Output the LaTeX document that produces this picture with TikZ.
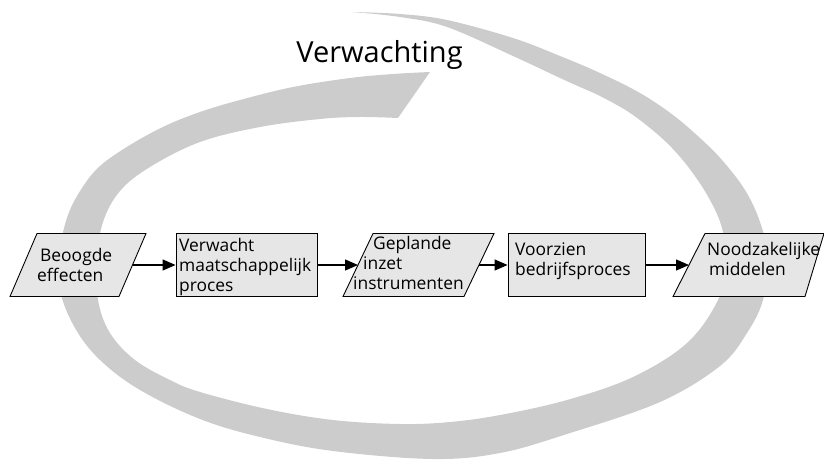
\documentclass[tikz,border=0pt]{standalone}
\usepackage{fontspec}
\setmainfont{Open Sans}
\usetikzlibrary{arrows.meta}
\definecolor{ringgray}{RGB}{204,204,204}
\definecolor{boxgray}{RGB}{230,230,230}
\begin{document}
\begin{tikzpicture}[x=1pt,y=-1pt,
  cycleband/.style={fill=ringgray},
  boxline/.style={draw, fill=boxgray, line width=0.9pt},
  procbox/.style={boxline, rectangle, inner sep=0pt},
  slot/.style={rectangle, inner sep=0pt, outer sep=0pt},
  boxtext/.style={anchor=west, inner sep=0pt, align=left,
    font=\fontsize{17.4}{19.8}\selectfont},
  flow/.style={line width=1.3pt, -{Triangle[length=13pt,width=11pt]}},
]
\useasboundingbox (0,0) rectangle (824,460);

% feedback band: outer edge from the thin tail round to the cut end, inner edge back
\fill[cycleband]
  plot[smooth, tension=0.6] coordinates {
    (352,12) (400,14) (447,20) (513,38) (560,56) (600,73) (640,93) (673,115)
    (700,138) (722,160) (745,190) (760,222) (768,258) (763,300) (747,333)
    (720,366) (660,402) (567,434) (500,453) (433,459) (333,451) (260,437)
    (200,419) (140,390) (100,360) (75,328) (60,290) (60,250) (68,215)
    (82,188) (100,166) (130,145) (165,126) (200,112) (240,100) (293,87)
    (350,78) (393,74) (430,72)}
  -- plot[smooth, tension=0.6] coordinates {
    (398,118) (360,117) (320,119) (260,127) (200,142) (150,167) (120,191)
    (103,222) (97,260) (98,300) (110,333) (135,360) (170,380) (200,392)
    (267,409) (333,420) (400,424) (450,422) (500,415) (567,400) (633,377)
    (687,343) (718,300) (727,262) (722,228) (710,200) (692,172) (672,148)
    (650,128) (627,111) (600,96) (580,87) (560,78) (513,56) (447,27)
    (400,17) (352,12)}
  -- cycle;

\node[font=\fontsize{29}{35}\selectfont, anchor=base, inner sep=0pt] (title)
  at (379.5,63) {Verwachting};

% process chain: rectangles are nodes, parallelograms are drawn on named slots
\node[slot, minimum width=136pt, minimum height=63pt] (b1) at (78,265) {};
\filldraw[boxline] ([xshift=27pt]b1.north west) -- (b1.north east)
  -- ([xshift=-27pt]b1.south east) -- (b1.south west) -- cycle;
\node[procbox, minimum width=141pt, minimum height=63pt] (b2) at (246.5,265) {};
\node[slot, minimum width=151pt, minimum height=63pt] (b3) at (418.5,265) {};
\filldraw[boxline] ([xshift=30pt]b3.north west) -- (b3.north east)
  -- ([xshift=-30pt]b3.south east) -- (b3.south west) -- cycle;
\node[procbox, minimum width=137pt, minimum height=63pt] (b4) at (576.5,265) {};
\node[slot, minimum width=151pt, minimum height=63pt] (b5) at (748.5,265) {};
\filldraw[boxline] ([xshift=32pt]b5.north west) -- (b5.north east)
  -- ([xshift=-19pt]b5.south east) -- (b5.south west) -- cycle;

\node[boxtext] (t1) at (37,265) {\hspace*{3pt}Beoogde\\effecten};
\node[boxtext] (t2) at (179,267) {Verwacht\\maatschappelijk\\proces};
\node[boxtext] (t3) at (353,263) {\hspace*{20pt}Geplande\\\hspace*{10pt}inzet\\instrumenten};
\node[boxtext] (t4) at (515,261) {Voorzien\\bedrijfsproces};
\node[boxtext] (t5) at (707,259) {Noodzakelijke\\\hspace*{2pt}middelen};

\draw[flow] ([xshift=-13.5pt]b1.east) -- (b2.west);
\draw[flow] (b2.east) -- ([xshift=15pt]b3.west);
\draw[flow] ([xshift=-15pt]b3.east) -- (b4.west);
\draw[flow] (b4.east) -- ([xshift=16pt]b5.west);
\end{tikzpicture}
\end{document}
